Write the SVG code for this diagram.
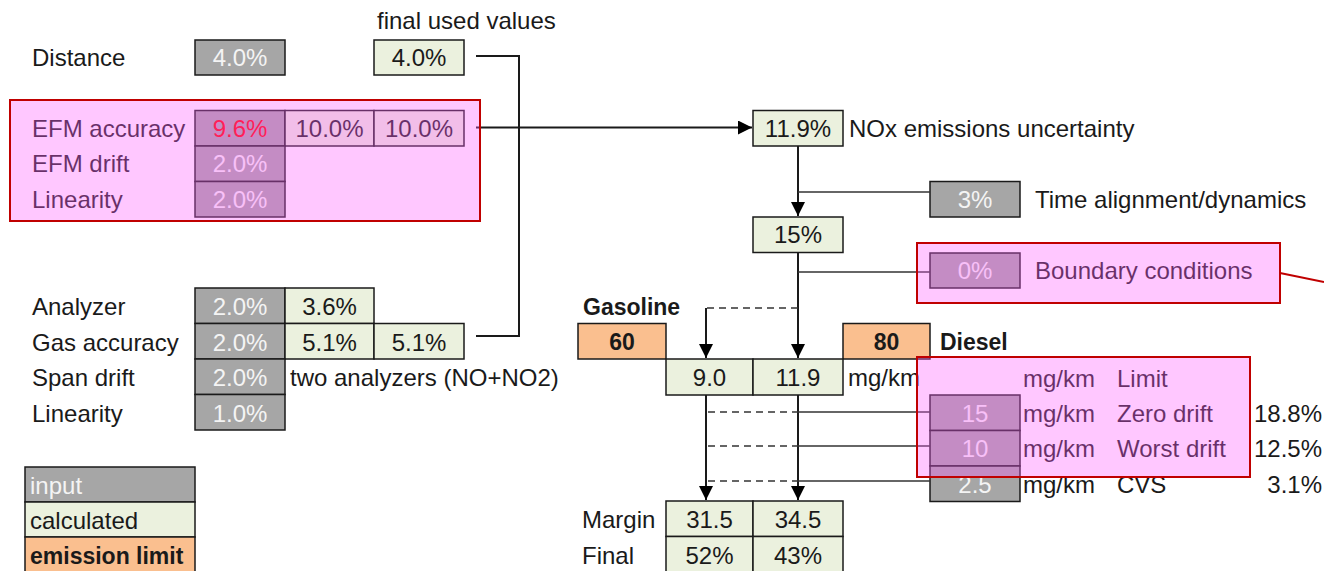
<svg xmlns="http://www.w3.org/2000/svg" width="1324" height="571" viewBox="0 0 1324 571">
<defs>
<style>
text{font-family:"Liberation Sans",Arial,sans-serif;font-size:24px;fill:#1a1a1a}
.c{text-anchor:middle}
.e{text-anchor:end}
.b{font-weight:bold;font-size:23px}
.w{fill:#f4f4f4}
.red{fill:#ff0000}
.in{fill:#a6a6a6;stroke:#1a1a1a;stroke-width:1.5}
.calc{fill:#ebf1de;stroke:#1a1a1a;stroke-width:1.5}
.lim{fill:#fabf8f;stroke:#1a1a1a;stroke-width:1.5}
.ln{fill:none;stroke:#1a1a1a;stroke-width:2}
.thin{fill:none;stroke:#333;stroke-width:1.5}
.dash{fill:none;stroke:#333;stroke-width:1.5;stroke-dasharray:7 5}
.hl{fill:#ff5cff;fill-opacity:0.34;stroke:#c00000;stroke-width:2}
</style>
<marker id="arr" markerUnits="userSpaceOnUse" markerWidth="14" markerHeight="14" viewBox="0 0 14 14" refX="14" refY="7" orient="auto">
<path d="M0,0 L14,7 L0,14 z" fill="#000"/>
</marker>
</defs>
<rect width="1324" height="571" fill="#fff"/>

<text x="377" y="29">final used values</text>

<g id="distance">
<text x="32" y="66">Distance</text>
<rect class="in" x="195" y="40" width="90" height="35"/><text class="c w" x="240" y="66">4.0%</text>
<rect class="calc" x="374" y="40" width="90" height="35"/><text class="c" x="419" y="66">4.0%</text>
</g>

<g id="efm">
<text x="32" y="137">EFM accuracy</text>
<text x="32" y="172">EFM drift</text>
<text x="32" y="208">Linearity</text>
<rect class="in" x="195" y="110.5" width="90" height="35.5"/><text class="c red" x="240" y="137">9.6%</text>
<rect class="calc" x="285" y="110.5" width="89" height="35.5"/><text class="c" x="329.5" y="137">10.0%</text>
<rect class="calc" x="374" y="110.5" width="90" height="35.5"/><text class="c" x="419" y="137">10.0%</text>
<rect class="in" x="195" y="146" width="90" height="35.5"/><text class="c w" x="240" y="172">2.0%</text>
<rect class="in" x="195" y="181.5" width="90" height="35.5"/><text class="c w" x="240" y="208">2.0%</text>
</g>

<g id="analyzer">
<text x="32" y="315">Analyzer</text>
<text x="32" y="351">Gas accuracy</text>
<text x="32" y="386">Span drift</text>
<text x="32" y="422">Linearity</text>
<rect class="in" x="195" y="288" width="90" height="35.5"/><text class="c w" x="240" y="315">2.0%</text>
<rect class="calc" x="285" y="288" width="89" height="35.5"/><text class="c" x="329.5" y="315">3.6%</text>
<rect class="in" x="195" y="323.5" width="90" height="35.5"/><text class="c w" x="240" y="351">2.0%</text>
<rect class="calc" x="285" y="323.5" width="89" height="35.5"/><text class="c" x="329.5" y="351">5.1%</text>
<rect class="calc" x="374" y="323.5" width="90" height="35.5"/><text class="c" x="419" y="351">5.1%</text>
<rect class="in" x="195" y="359" width="90" height="35.5"/><text class="c w" x="240" y="386">2.0%</text>
<text x="290" y="386">two analyzers (NO+NO2)</text>
<rect class="in" x="195" y="394.5" width="90" height="35.5"/><text class="c w" x="240" y="422">1.0%</text>
</g>

<g id="legend">
<rect class="in" x="25" y="467" width="170" height="35"/><text class="w" x="30" y="494">input</text>
<rect class="calc" x="25" y="502" width="170" height="35"/><text x="30" y="529">calculated</text>
<rect class="lim" x="25" y="537" width="170" height="36"/><text class="b" x="30" y="564">emission limit</text>
</g>

<g id="nox">
<rect class="calc" x="753" y="110.5" width="90" height="35.5"/><text class="c" x="798" y="137">11.9%</text>
<text x="849" y="137">NOx emissions uncertainty</text>
</g>

<g id="time">
<rect class="in" x="930" y="181.5" width="90" height="35.5"/><text class="c w" x="975" y="208">3%</text>
<text x="1035" y="208">Time alignment/dynamics</text>
</g>

<g id="total15">
<rect class="calc" x="753" y="217" width="90" height="35.5"/><text class="c" x="798" y="243">15%</text>
</g>

<g id="boundary">
<rect class="in" x="930" y="253" width="90" height="35"/><text class="c w" x="975" y="279">0%</text>
<text x="1035" y="279">Boundary conditions</text>
</g>

<g id="limits">
<text class="b" x="583" y="315">Gasoline</text>
<rect class="lim" x="578" y="323.5" width="88" height="35.5"/><text class="c b" x="622" y="350">60</text>
<rect class="lim" x="843" y="323.5" width="87" height="35.5"/><text class="c b" x="886.5" y="350">80</text>
<text class="b" x="940" y="350">Diesel</text>
</g>

<g id="abs">
<rect class="calc" x="666" y="359" width="87" height="36"/><text class="c" x="709.5" y="386">9.0</text>
<rect class="calc" x="753" y="359" width="90" height="36"/><text class="c" x="798" y="386">11.9</text>
<text x="848" y="386">mg/km</text>
</g>

<g id="drifts">
<text x="1023" y="387">mg/km</text><text x="1117" y="387">Limit</text>
<rect class="in" x="930" y="395" width="90" height="35.5"/><text class="c w" x="975" y="422">15</text>
<text x="1023" y="422">mg/km</text><text x="1117" y="422">Zero drift</text><text class="e" x="1322" y="422">18.8%</text>
<rect class="in" x="930" y="430.5" width="90" height="35.5"/><text class="c w" x="975" y="457">10</text>
<text x="1023" y="457">mg/km</text><text x="1117" y="457">Worst drift</text><text class="e" x="1322" y="457">12.5%</text>
<rect class="in" x="930" y="466" width="90" height="35.5"/><text class="c w" x="975" y="493">2.5</text>
<text x="1023" y="493">mg/km</text><text x="1117" y="493">CVS</text><text class="e" x="1322" y="493">3.1%</text>
</g>

<g id="result">
<text x="582" y="528">Margin</text>
<text x="582" y="564">Final</text>
<rect class="calc" x="666" y="501" width="87" height="35.5"/><text class="c" x="709.5" y="528">31.5</text>
<rect class="calc" x="753" y="501" width="90" height="35.5"/><text class="c" x="798" y="528">34.5</text>
<rect class="calc" x="666" y="536.5" width="87" height="37"/><text class="c" x="709.5" y="564">52%</text>
<rect class="calc" x="753" y="536.5" width="90" height="37"/><text class="c" x="798" y="564">43%</text>
</g>

<g id="connectors">
<path class="ln" d="M476,56 H519 V336 H476"/>
<path class="ln" d="M476,127.5 H752" marker-end="url(#arr)"/>
<path class="ln" d="M798,146 V216" marker-end="url(#arr)"/>
<path class="thin" d="M798,192 H930"/>
<path class="ln" d="M798,252.5 V358" marker-end="url(#arr)"/>
<path class="thin" d="M798,272 H930"/>
<path class="dash" d="M798,308 H706"/>
<path class="ln" d="M706,308 V358" marker-end="url(#arr)"/>
<path class="ln" d="M706,395 V500" marker-end="url(#arr)"/>
<path class="ln" d="M798,395 V500" marker-end="url(#arr)"/>
<path class="dash" d="M708,412 H798"/><path class="thin" d="M798,412 H930"/>
<path class="dash" d="M708,446 H798"/><path class="thin" d="M798,446 H930"/>
<path class="dash" d="M708,481 H798"/><path class="thin" d="M798,481 H930"/>
<path d="M1280,273 L1324,282" fill="none" stroke="#c00000" stroke-width="2"/>
</g>

<g id="highlight-efm"><rect class="hl" x="10" y="100" width="470" height="121"/></g>
<g id="highlight-boundary"><rect class="hl" x="917" y="243" width="363" height="60"/></g>
<g id="highlight-drift"><rect class="hl" x="917" y="357" width="333" height="120"/></g>
</svg>
